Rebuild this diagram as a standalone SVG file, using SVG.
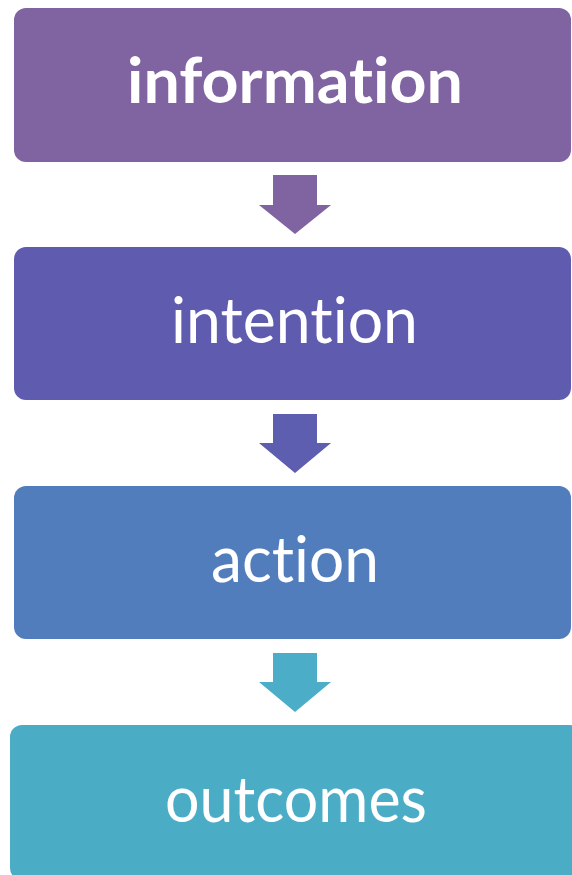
<svg xmlns="http://www.w3.org/2000/svg" width="572" height="875" viewBox="0 0 572 875">
  <style>
    .box { stroke: none; }
    .label { font-family: Lato, "Open Sans", "Liberation Sans", sans-serif; font-size: 63px; fill: #FFFFFF; text-anchor: middle; font-variant-ligatures: none; font-feature-settings: "liga" 0, "dlig" 0; }
    .bold { font-weight: bold; }
  </style>
  <rect width="572" height="875" fill="#FFFFFF"/>

  <!-- connectors: block arrows between stages -->
  <g id="connectors">
    <path d="M273,175 H317 V205 H331 L295,234 L259,205 H273 Z" fill="#8064A2"/>
    <path d="M273,414 H317 V443 H331 L295,473 L259,443 H273 Z" fill="#5E5EB0"/>
    <path d="M273,653 H317 V682 H331 L295,712 L259,682 H273 Z" fill="#4BADC7"/>
  </g>

  <g id="node-information">
    <rect class="box" x="14" y="8" width="557" height="154" rx="12" fill="#8064A2"/>
    <text class="label bold" x="295" y="103" textLength="336" lengthAdjust="spacingAndGlyphs">information</text>
  </g>

  <g id="node-intention">
    <rect class="box" x="14" y="247" width="557" height="153" rx="12" fill="#5F5CAF"/>
    <text class="label" x="294.5" y="343" textLength="247" lengthAdjust="spacingAndGlyphs">intention</text>
  </g>

  <g id="node-action">
    <rect class="box" x="14" y="486" width="557" height="153" rx="12" fill="#527DBD"/>
    <text class="label" x="295" y="582" textLength="168" lengthAdjust="spacingAndGlyphs">action</text>
  </g>

  <g id="node-outcomes">
    <rect class="box" x="10" y="725" width="572" height="155" rx="12" fill="#4BACC6"/>
    <text class="label" x="296" y="822" textLength="262" lengthAdjust="spacingAndGlyphs">outcomes</text>
  </g>
</svg>
